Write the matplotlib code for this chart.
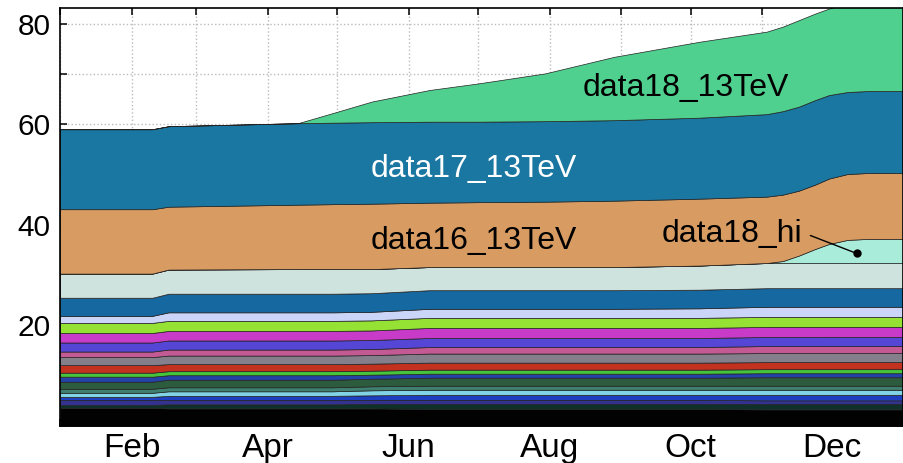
import matplotlib.pyplot as plt

plt.rcParams['font.family'] = ['Liberation Sans', 'DejaVu Sans']

# day of year of each sample
days = [0, 40, 47, 103, 118, 135, 160, 181, 210, 240, 277, 306, 313, 320, 327, 333, 341, 350, 365]

# thin streams, bottom to top (thickness per sample day)
stream_01 = [3.6, 3.6, 3.5, 3.5, 3.5, 3.5, 3.4, 3.4, 3.4, 3.4, 3.4, 3.3, 3.3, 3.3, 3.3, 3.3, 3.3, 3.3, 3.3]
stream_02 = [0.6, 0.6, 0.8, 0.8, 0.8, 0.9, 1.0, 1.0, 1.0, 1.0, 1.0, 1.1, 1.1, 1.1, 1.1, 1.1, 1.1, 1.1, 1.1]
stream_03 = [1.0, 1.0, 0.9, 0.9, 0.9, 0.8, 0.8, 0.8, 0.8, 0.8, 0.8, 0.7, 0.7, 0.7, 0.7, 0.7, 0.7, 0.7, 0.7]
stream_04 = [0.6, 0.6, 0.8, 0.8, 0.8, 0.9, 1.0, 1.0, 1.0, 1.0, 1.0, 1.1, 1.1, 1.1, 1.1, 1.1, 1.1, 1.1, 1.1]
stream_05 = [0.8, 0.8, 0.9, 0.9, 0.9, 1.0, 1.0, 1.0, 1.0, 1.0, 1.0, 1.0, 1.0, 1.0, 1.0, 1.0, 1.0, 1.0, 1.0]
stream_06 = [0.8, 0.8, 0.8, 0.8, 0.8, 0.8, 0.8, 0.8, 0.8, 0.8, 0.8, 0.8, 0.8, 0.8, 0.8, 0.8, 0.8, 0.8, 0.8]
stream_07 = [1.4, 1.4, 1.5, 1.5, 1.5, 1.5, 1.6, 1.6, 1.6, 1.6, 1.6, 1.7, 1.7, 1.7, 1.7, 1.7, 1.7, 1.7, 1.7]
stream_08 = [1.0, 1.0, 0.9, 0.9, 0.9, 0.8, 0.8, 0.8, 0.8, 0.8, 0.8, 0.8, 0.8, 0.8, 0.8, 0.8, 0.8, 0.8, 0.8]
stream_09 = [0.8, 0.8, 0.8, 0.8, 0.8, 0.8, 0.8, 0.8, 0.8, 0.8, 0.8, 0.8, 0.8, 0.8, 0.8, 0.8, 0.8, 0.8, 0.8]
stream_10 = [1.5, 1.5, 1.4, 1.4, 1.4, 1.4, 1.4, 1.4, 1.4, 1.4, 1.4, 1.4, 1.4, 1.4, 1.4, 1.4, 1.4, 1.4, 1.4]
stream_11 = [1.6, 1.6, 1.7, 1.7, 1.7, 1.7, 1.8, 1.8, 1.8, 1.8, 1.8, 1.8, 1.8, 1.8, 1.8, 1.8, 1.8, 1.8, 1.8]
stream_12 = [1.1, 1.1, 1.2, 1.2, 1.2, 1.2, 1.3, 1.3, 1.3, 1.3, 1.3, 1.4, 1.4, 1.4, 1.4, 1.4, 1.4, 1.4, 1.4]
stream_13 = [1.8, 1.8, 1.8, 1.8, 1.8, 1.8, 1.8, 1.8, 1.8, 1.8, 1.8, 1.8, 1.8, 1.8, 1.8, 1.8, 1.8, 1.8, 1.8]
stream_14 = [1.9, 1.9, 1.9, 1.9, 1.9, 1.9, 2.0, 2.0, 2.0, 2.0, 2.0, 2.0, 2.0, 2.0, 2.0, 2.0, 2.0, 2.0, 2.0]
stream_15 = [2.0, 2.0, 2.0, 2.0, 2.0, 2.0, 2.0, 2.0, 2.0, 2.0, 2.0, 2.0, 2.0, 2.0, 2.0, 2.0, 2.0, 2.0, 2.0]
stream_16 = [1.4, 1.4, 1.7, 1.7, 1.7, 1.7, 1.8, 1.8, 1.8, 1.8, 1.9, 2.0, 2.0, 2.0, 2.0, 2.0, 2.0, 2.0, 2.0]
stream_17 = [3.6, 3.6, 3.7, 3.7, 3.7, 3.7, 3.7, 3.7, 3.7, 3.7, 3.7, 3.7, 3.7, 3.7, 3.7, 3.7, 3.7, 3.7, 3.7]
stream_18 = [4.8, 4.8, 4.8, 4.9, 4.9, 4.8, 4.6, 4.6, 4.6, 4.6, 4.8, 5.0, 5.0, 5.0, 5.0, 5.0, 5.0, 5.0, 5.0]

# labelled datasets
data18_hi = [0, 0, 0, 0, 0, 0, 0, 0, 0, 0, 0, 0.0, 0.4, 1.5, 2.8, 3.8, 4.6, 4.8, 4.8]
data16_13TeV = [12.8, 12.8, 12.5, 12.8, 12.9, 13.0, 12.8, 12.9, 13.0, 13.2, 13.3,
                13.2, 13.2, 12.9, 12.8, 13.0, 13.1, 13.1, 13.1]
data17_13TeV = [15.9, 15.9, 16.0, 16.2, 16.2, 16.2, 16.1, 16.0, 16.0, 16.0, 16.1,
                16.4, 16.6, 16.7, 16.8, 16.6, 16.3, 16.3, 16.3]
data18_13TeV = [0, 0, 0, 0, 1.9, 4.1, 6.3, 7.6, 9.5, 12.6, 15.1,
                16.4, 16.8, 17.2, 17.2, 17.2, 17.6, 17.9, 18.4]

month_starts = [0, 31, 59, 90, 120, 151, 181, 212, 243, 273, 304, 334]
month_names = ['Jan', 'Feb', 'Mar', 'Apr', 'May', 'Jun',
               'Jul', 'Aug', 'Sep', 'Oct', 'Nov', 'Dec']

layers = [stream_01, stream_02, stream_03, stream_04, stream_05, stream_06,
          stream_07, stream_08, stream_09, stream_10, stream_11, stream_12,
          stream_13, stream_14, stream_15, stream_16, stream_17, stream_18,
          data18_hi, data16_13TeV, data17_13TeV, data18_13TeV]
colors = ['#020202', '#10302a', '#33338f', '#1d3fbf', '#80d4e6', '#3f7f6f',
          '#2d5b3d', '#2442a8', '#45c43c', '#c2321f', '#857f8c', '#c45a94',
          '#5646d6', '#c83ac8', '#95e234', '#cbd5f7', '#1668a0', '#cfe3de',
          '#a9ecd9', '#d89c62', '#1a77a1', '#4fd08f']

fig = plt.figure(figsize=(9.04, 4.63), dpi=100)
ax = fig.add_axes([0.0664, 0.0799, 0.9325, 0.9028])

ax.stackplot(days, *layers, colors=colors, edgecolor='#222222', linewidth=0.5)

ax.set_xlim(0, 365)
ax.set_ylim(0, 83.1)

ax.set_xticks(month_starts)
ax.set_xticklabels([m if i % 2 else '' for i, m in enumerate(month_names)])
yt = list(range(0, 81, 10))
ax.set_yticks(yt)
ax.set_yticklabels([str(v) if v and v % 20 == 0 else '' for v in yt])

ax.tick_params(direction='in', top=True, right=True, length=5, width=1.1,
               colors='black')
ax.tick_params(axis='x', labelsize=24, pad=5)
ax.tick_params(axis='y', labelsize=21.5, pad=7)
for s in ax.spines.values():
    s.set_linewidth(1.2)

ax.grid(True, ls=':', color='#bbbbbb', lw=1)
ax.set_axisbelow(True)

ax.text(271, 65.7, 'data18_13TeV', fontsize=23, ha='center', va='baseline')
ax.text(179, 49.5, 'data17_13TeV', fontsize=23, ha='center', va='baseline',
        color='white')
ax.text(179, 35.2, 'data16_13TeV', fontsize=23, ha='center', va='baseline')
ax.annotate('data18_hi', xy=(345, 34.3), xytext=(291, 36.6), fontsize=23,
            ha='center', va='baseline',
            arrowprops=dict(arrowstyle='-', color='black', lw=1,
                            relpos=(1.0, 0.55), shrinkA=4, shrinkB=0))
ax.plot([345], [34.3], 'o', color='black', ms=5)

fig.savefig('out.png', dpi=100)
